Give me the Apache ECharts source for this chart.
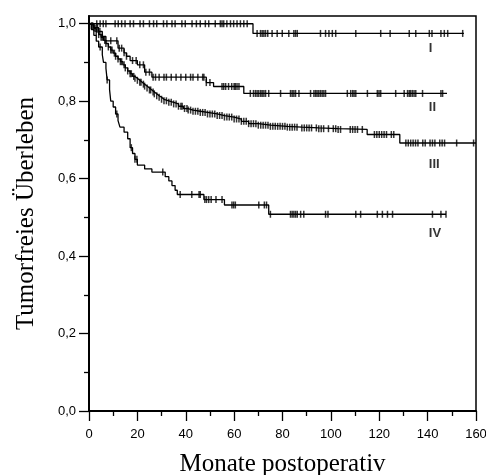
<!DOCTYPE html>
<html><head><meta charset="utf-8">
<script src="https://cdn.jsdelivr.net/npm/echarts@6/dist/echarts.min.js"></script>
<style>html,body{margin:0;padding:0;background:#fff}#c{width:486px;height:475px}</style>
</head><body><div id="c"></div>
<script>
// Kaplan-Meier step data: [month, survival after event]
const stepsI = [[0,1],[67.8,0.975],[155,0.975]];
const stepsII = [[0,1],[2,0.99],[4,0.98],[5.5,0.967],[7,0.956],[12,0.937],[14.5,0.925],[15.5,0.916],[17,0.905],[20,0.894],[23,0.875],[26,0.862],[48.5,0.848],[51.5,0.838],[64,0.82],[148,0.82]];
const stepsIII = [[0,1],[1,0.995],[2,0.988],[3,0.979],[4,0.972],[5,0.965],[6,0.957],[7,0.949],[8,0.94],[9,0.932],[10,0.924],[11,0.916],[12,0.909],[13,0.902],[14,0.894],[15,0.886],[16,0.878],[17,0.871],[18,0.864],[19,0.859],[20,0.854],[21,0.849],[22,0.844],[23,0.839],[24,0.834],[25,0.829],[26,0.824],[27,0.819],[28,0.814],[29,0.81],[30,0.805],[31,0.801],[33,0.797],[35,0.793],[37,0.787],[39,0.781],[41,0.777],[43,0.774],[46,0.771],[49,0.767],[53,0.763],[56,0.759],[60,0.754],[63,0.748],[66,0.742],[70,0.738],[75,0.735],[82,0.733],[88,0.731],[95,0.729],[103,0.727],[115,0.714],[128.5,0.692],[160,0.692]];
const stepsIV = [[0,1],[1,0.985],[2,0.97],[3,0.955],[4,0.94],[5.5,0.92],[6,0.9],[7,0.885],[7.5,0.855],[8.5,0.83],[9,0.8],[10,0.785],[11,0.767],[12,0.75],[12.8,0.733],[14.5,0.72],[16,0.703],[17,0.68],[18,0.665],[19,0.65],[20,0.635],[23,0.625],[26,0.617],[31.5,0.605],[33,0.594],[34.3,0.582],[35.6,0.57],[36.5,0.559],[47.5,0.546],[56,0.532],[74.3,0.508],[147.6,0.508]];

// censoring times (months)
const censI = [3.2,4.6,5.9,7,10.8,12.1,13.5,14.9,17,18.4,21.1,22.5,25,26.7,28,30.8,32.2,34.3,35.6,38.4,39.8,42.6,44.4,46,48.1,49.5,52.2,54.3,55,55.7,57,58.5,59.8,61.2,62.6,64,65.4,69.5,70.9,71.6,72.3,73,73.9,75.7,77.8,79.9,82.6,84.7,85.4,86.1,95.7,97.8,99.2,100.6,102,110.3,120.6,124.5,132.4,135.1,140.7,141.8,145.5,146.9,148.3,154.5];
const censII = [2,3.5,4.5,9,11.5,12.5,13.5,14.5,15.5,18,19.5,21,22.5,23.5,25,26.5,27.5,29,31,32,34,36,38,40,42,43,45,47,47.5,48.5,50,55,55.7,56.5,57.7,59,60,60.5,61.2,62,66.7,68,68.8,69.5,70.2,71,71.6,72.3,73,74.3,79.2,83.3,84,84.7,85.4,86.8,91.6,93,93.7,94.3,95,95.7,96.4,97.1,97.8,106.8,108.2,109,109.6,110.3,115.1,119.2,119.9,120.6,126.8,130.3,131.7,132.4,133,133.7,134.4,135.1,137.9,145.5,146.2];
const censIII = [1,1.5,2.5,3,4,5,5.5,6.5,7,8,9,9.5,10.5,11,12,13,13.5,14.5,15,16,17,17.5,18.5,19,20,21,21.5,22.5,23,24,25,25.5,26.5,27,28,29,30,31,32,33,34,35,36,37,38,38.5,39.5,40.5,41,42,43,44,45,46,47,48,49,50,51,52,53,54,55,56,57,58,59,60,61,62,63,64,65,66,67,68,69,70,71,72,73,74,75,76,77,78,79,80,81,82,83,84,85,86,88,89,90,91,92,94,95,96,97,99,101,102,103,104,108,109,110,111,113,118,119,120,121,122,123,125,126,131,132,133,134,135,136,138,139,141,142,143,145,146,147,152,159];
const censIV = [4.6,7.5,11.5,17.5,19,19.8,30.5,37.7,42.5,45.5,46,47.9,48.6,49.5,50.5,52.5,55,59.1,59.8,60.5,70.2,72.5,73.4,75,83.3,84,84.7,85.4,86.1,87.5,88.8,97.8,98.8,110.3,112.3,119.2,121.3,123.4,125.5,142,145.5,147.6];

const groupNames = ['I','II','III','IV'];
const yMajorTicks = [0,0.2,0.4,0.6,0.8,1.0];
const yMinorTicks = [0.1,0.3,0.5,0.7,0.9];

function survAt(steps, t){ let s = steps[0][1]; for (const p of steps){ if (p[0] <= t) s = p[1]; else break; } return s; }

const allSteps = [stepsI, stepsII, stepsIII, stepsIV];
const allCens = [censI, censII, censIII, censIV];
const series = [];
allSteps.forEach((st, i) => {
  series.push({ type:'line', step:'end', data: st, showSymbol:false, symbol:'none',
    lineStyle:{color:'#000', width:1.3}, silent:true, z:3 });
  series.push({ type:'scatter', data: allCens[i].map(t => [t, survAt(st, t)]), symbol:'rect',
    symbolSize:[1.5,7], itemStyle:{color:'#000'}, silent:true, z:4 });
});
series.push({ type:'scatter', symbolSize:0, silent:true,
  data:[{value:[140.5,0.936],name:groupNames[0]},{value:[140.5,0.784],name:groupNames[1]},{value:[140.5,0.636],name:groupNames[2]},{value:[140.5,0.459],name:groupNames[3]}],
  label:{show:true, position:'right', distance:0, formatter:p=>p.name, color:'#000', fontFamily:'Liberation Sans', fontWeight:'bold', fontSize:13}
});

const fmt = v => v.toFixed(1).replace('.', ',');
const chart = echarts.init(document.getElementById('c'));
chart.setOption({
  animation:false,
  backgroundColor:'#fff',
  grid:{left:89, right:10, top:16, bottom:64, outerBoundsMode:'none', containLabel:false, show:true, borderColor:'#000', borderWidth:1.5, backgroundColor:'transparent'},
  xAxis:{type:'value', min:0, max:160, interval:20,
    name:'Monate postoperativ', nameLocation:'middle', nameGap:41,
    nameTextStyle:{fontFamily:'Liberation Serif', fontSize:25, color:'#000'},
    axisLine:{show:true, onZero:false, lineStyle:{color:'#000', width:2}},
    axisTick:{show:true, length:10, lineStyle:{color:'#000', width:1.3}},
    minorTick:{show:true, splitNumber:2, length:5, lineStyle:{color:'#000', width:1.3}},
    axisLabel:{margin:17, color:'#000', fontFamily:'Liberation Sans', fontSize:13},
    splitLine:{show:false}},
  yAxis:[{type:'value', min:0, max:1.02,
    name:'Tumorfreies Überleben', nameLocation:'middle', nameGap:50, nameRotate:90,
    nameTextStyle:{fontFamily:'Liberation Serif', fontSize:25, color:'#000'},
    axisLine:{show:true, onZero:false, lineStyle:{color:'#000', width:2}},
    axisTick:{show:true, length:10, customValues:yMajorTicks, lineStyle:{color:'#000', width:1.3}},
    axisLabel:{margin:13, color:'#000', fontFamily:'Liberation Sans', fontSize:13, customValues:yMajorTicks, formatter:fmt},
    splitLine:{show:false}},
   {type:'value', min:0, max:1.02, position:'left',
    axisLine:{show:false},
    axisTick:{show:true, length:5, customValues:yMinorTicks, lineStyle:{color:'#000', width:1.3}},
    axisLabel:{show:false, customValues:yMinorTicks},
    splitLine:{show:false}}],
  series: series
});
</script></body></html>
